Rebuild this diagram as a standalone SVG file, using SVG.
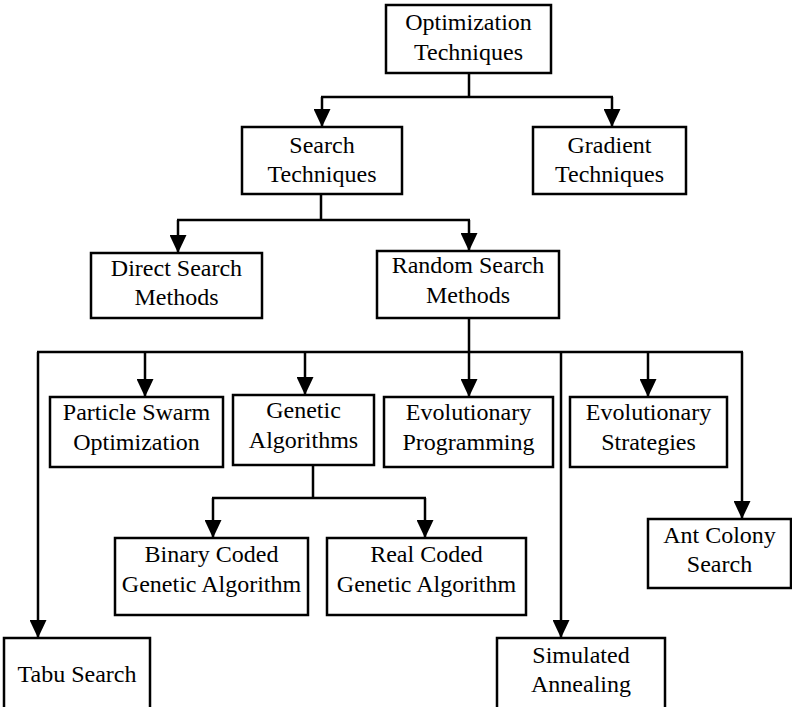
<svg xmlns="http://www.w3.org/2000/svg" width="792" height="707" viewBox="0 0 792 707">
<style>
.box{fill:#fff;stroke:#000;stroke-width:2.5}
.t{font-family:'Liberation Serif','Times New Roman',serif;font-size:24px;fill:#000;text-anchor:middle}
.c{fill:none;stroke:#000;stroke-width:2.5}
</style>
<defs>
<marker id="ah" viewBox="0 0 18 17" refX="18" refY="8.5" markerWidth="18" markerHeight="17" markerUnits="userSpaceOnUse" orient="auto">
<path d="M0,0 L18,8.5 L0,17 z" fill="#000"/>
</marker>
</defs>
<rect width="792" height="707" fill="#fff"/>
<g id="connectors">
<path class="c" d="M469,73 V97 M321,97 H613"/>
<path class="c" d="M322,97 V127" marker-end="url(#ah)"/>
<path class="c" d="M612,97 V127" marker-end="url(#ah)"/>
<path class="c" d="M321,194 V220 M177,220 H470"/>
<path class="c" d="M178,220 V253" marker-end="url(#ah)"/>
<path class="c" d="M469,220 V251" marker-end="url(#ah)"/>
<path class="c" d="M469,318 V352 M37,352 H743"/>
<path class="c" d="M38,352 V638" marker-end="url(#ah)"/>
<path class="c" d="M145,352 V397" marker-end="url(#ah)"/>
<path class="c" d="M305,352 V395" marker-end="url(#ah)"/>
<path class="c" d="M469,352 V397" marker-end="url(#ah)"/>
<path class="c" d="M561,352 V638" marker-end="url(#ah)"/>
<path class="c" d="M648,352 V397" marker-end="url(#ah)"/>
<path class="c" d="M742,352 V519" marker-end="url(#ah)"/>
<path class="c" d="M313,465 V498 M212,498 H426"/>
<path class="c" d="M213,498 V538" marker-end="url(#ah)"/>
<path class="c" d="M425,498 V538" marker-end="url(#ah)"/>
</g>
<g font-family="'Liberation Serif', 'Times New Roman', serif" font-size="24">
<g id="optimization"><rect class="box" x="386" y="5" width="165" height="68"/><text class="t" x="468.5" y="30">Optimization</text><text class="t" x="468.5" y="60">Techniques</text></g>
<g id="search"><rect class="box" x="242" y="127" width="160" height="67"/><text class="t" x="322" y="153">Search</text><text class="t" x="322" y="182">Techniques</text></g>
<g id="gradient"><rect class="box" x="533" y="127" width="153" height="67"/><text class="t" x="609.5" y="153">Gradient</text><text class="t" x="609.5" y="182">Techniques</text></g>
<g id="direct"><rect class="box" x="91" y="253" width="171" height="65"/><text class="t" x="176.5" y="276">Direct Search</text><text class="t" x="176.5" y="305">Methods</text></g>
<g id="random"><rect class="box" x="377" y="251" width="182" height="67"/><text class="t" x="468" y="273">Random Search</text><text class="t" x="468" y="303">Methods</text></g>
<g id="pso"><rect class="box" x="50" y="397" width="173" height="70"/><text class="t" x="136.5" y="420">Particle Swarm</text><text class="t" x="136.5" y="450">Optimization</text></g>
<g id="ga"><rect class="box" x="233" y="395" width="141" height="70"/><text class="t" x="303.5" y="418">Genetic</text><text class="t" x="303.5" y="448">Algorithms</text></g>
<g id="ep"><rect class="box" x="384" y="397" width="169" height="70"/><text class="t" x="468.5" y="420">Evolutionary</text><text class="t" x="468.5" y="450">Programming</text></g>
<g id="es"><rect class="box" x="570" y="397" width="157" height="70"/><text class="t" x="648.5" y="420">Evolutionary</text><text class="t" x="648.5" y="450">Strategies</text></g>
<g id="binary"><rect class="box" x="115" y="538" width="193" height="77"/><text class="t" x="211.5" y="562">Binary Coded</text><text class="t" x="211.5" y="592">Genetic Algorithm</text></g>
<g id="real"><rect class="box" x="327" y="538" width="199" height="77"/><text class="t" x="426.5" y="562">Real Coded</text><text class="t" x="426.5" y="592">Genetic Algorithm</text></g>
<g id="ant"><rect class="box" x="648" y="519" width="143" height="69"/><text class="t" x="719.5" y="543">Ant Colony</text><text class="t" x="719.5" y="572">Search</text></g>
<g id="tabu"><rect class="box" x="4" y="638" width="146" height="80"/><text class="t" x="77" y="682">Tabu Search</text></g>
<g id="sa"><rect class="box" x="497" y="638" width="168" height="80"/><text class="t" x="581" y="663">Simulated</text><text class="t" x="581" y="692">Annealing</text></g>
</g>
</svg>
